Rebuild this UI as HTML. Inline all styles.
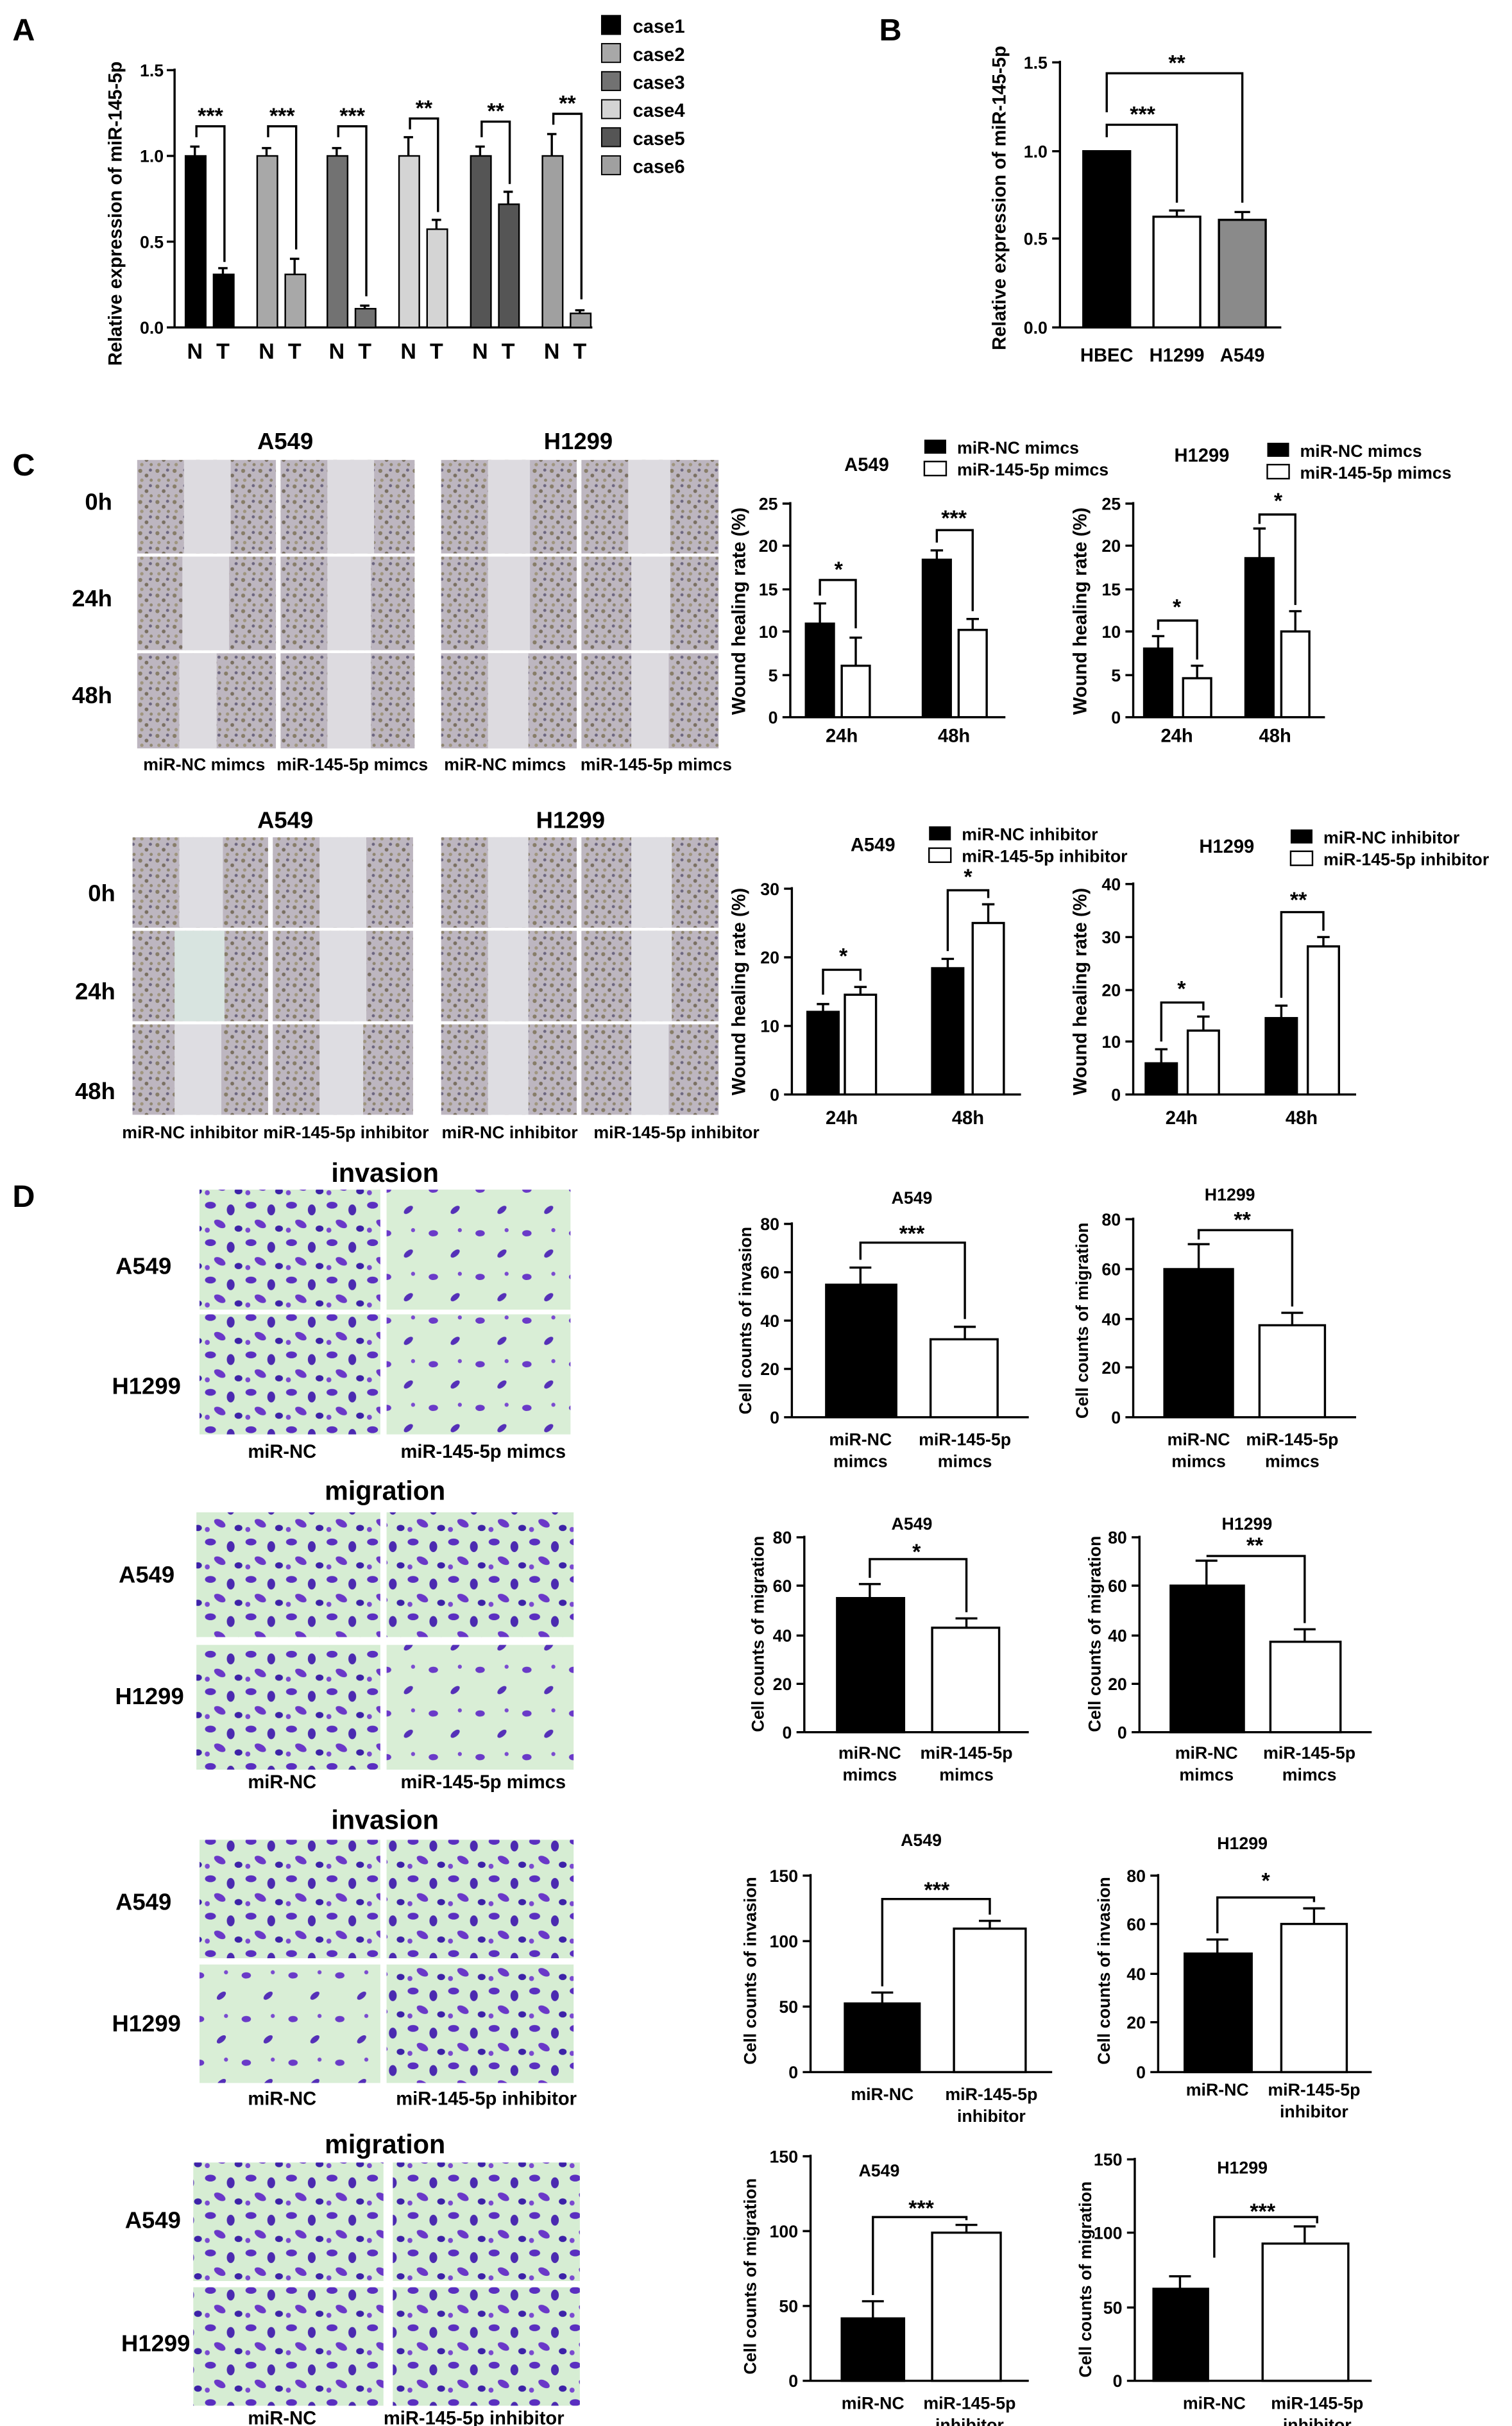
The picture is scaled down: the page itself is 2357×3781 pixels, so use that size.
<!DOCTYPE html>
<html><head><meta charset="utf-8"><style>
html,body{margin:0;padding:0;background:#fff}
svg{display:block}
text{font-family:"Liberation Sans",Arial,sans-serif;font-weight:bold;fill:#000}
.t{font-size:11px}
.l{font-size:12px}
.s{font-size:14px}
.h{font-size:15px}
.P{font-size:20px}
.ax line,.ax path,.ax polyline{stroke:#000;stroke-width:1.4;fill:none}
</style></head><body>
<svg width="2357" height="3781" viewBox="0 0 970 1556" preserveAspectRatio="none" xmlns="http://www.w3.org/2000/svg">
<defs>
<pattern id="wd" width="11" height="10" patternUnits="userSpaceOnUse">
<rect width="11" height="10" fill="#bdb6c0"/>
<circle cx="2" cy="2" r="1.3" fill="#877d68"/><circle cx="6" cy="5" r="1.2" fill="#7a7062"/><circle cx="3" cy="8" r="1.1" fill="#9f957e"/><circle cx="8.5" cy="1.5" r="1" fill="#6c6680"/><circle cx="9" cy="8" r="1" fill="#8e8570"/>
</pattern>
<pattern id="tw" width="26" height="24" patternUnits="userSpaceOnUse">
<rect width="26" height="24" fill="#d6edd3"/>
<ellipse cx="5" cy="5" rx="3.5" ry="2.2" fill="#5a2fc0"/><ellipse cx="18" cy="8" rx="2.5" ry="3.5" fill="#4b2ab0"/>
<ellipse cx="11" cy="17" rx="4" ry="2.2" fill="#6a38c8" transform="rotate(30 11 17)"/><ellipse cx="23" cy="20" rx="2.5" ry="2" fill="#3d22a8"/>
<circle cx="3" cy="21" r="1.6" fill="#7a4ad0"/>
</pattern>
<pattern id="tw2" width="30" height="28" patternUnits="userSpaceOnUse">
<rect width="30" height="28" fill="#d9eed6"/>
<ellipse cx="8" cy="7" rx="3" ry="2" fill="#6a3ac8"/><ellipse cx="22" cy="20" rx="3.5" ry="1.8" fill="#5530b8" transform="rotate(-40 22 20)"/><circle cx="25" cy="5" r="1.3" fill="#7a4ad0"/>
</pattern>
</defs>
<rect width="970" height="1556" fill="#fff"/>

<!-- Panel A -->
<text x="8" y="26" class="P">A</text>
<text transform="translate(78,137) rotate(-90)" text-anchor="middle" class="l">Relative expression of miR-145-5p</text>
<g class="ax"><line x1="112" y1="44" x2="112" y2="210"/><line x1="112" y1="210" x2="380" y2="210"/>
<line x1="107" y1="45" x2="112" y2="45"/><line x1="107" y1="100" x2="112" y2="100"/><line x1="107" y1="155" x2="112" y2="155"/><line x1="107" y1="210" x2="112" y2="210"/></g>
<g class="t" text-anchor="end"><text x="105" y="49">1.5</text><text x="105" y="104">1.0</text><text x="105" y="159">0.5</text><text x="105" y="214">0.0</text></g>
<g stroke="#000" stroke-width="1">
<rect x="119" y="100" width="13" height="110" fill="#000"/><rect x="137" y="176" width="13" height="34" fill="#000"/>
<rect x="165" y="100" width="13" height="110" fill="#a8a8a8"/><rect x="183" y="176" width="13" height="34" fill="#a8a8a8"/>
<rect x="210" y="100" width="13" height="110" fill="#727272"/><rect x="228" y="198" width="13" height="12" fill="#727272"/>
<rect x="256" y="100" width="13" height="110" fill="#d4d4d4"/><rect x="274" y="147" width="13" height="63" fill="#d4d4d4"/>
<rect x="302" y="100" width="13" height="110" fill="#555"/><rect x="320" y="131" width="13" height="79" fill="#555"/>
<rect x="348" y="100" width="13" height="110" fill="#a0a0a0"/><rect x="366" y="201" width="13" height="9" fill="#a0a0a0"/>
</g>
<g class="ax">
<path d="M125 100V94M122 94h6M143 176v-4M140 172h6M171 100v-5M168 95h6M189 176v-10M186 166h6M216 100v-5M213 95h6M234 198v-2M231 196h6M262 100v-12M259 88h6M280 147v-6M277 141h6M308 100v-6M305 94h6M326 131v-8M323 123h6M354 100v-14M351 86h6M372 201v-2M369 199h6"/>
<polyline points="126,88 126,81 144,81 144,168"/><polyline points="172,88 172,81 190,81 190,160"/><polyline points="217,88 217,81 235,81 235,190"/>
<polyline points="263,83 263,76 281,76 281,136"/><polyline points="309,88 309,78 327,78 327,118"/><polyline points="355,80 355,73 373,73 373,192"/>
</g>
<g class="s" text-anchor="middle"><text x="135" y="79">***</text><text x="181" y="79">***</text><text x="226" y="79">***</text><text x="272" y="74">**</text><text x="318" y="76">**</text><text x="364" y="71">**</text></g>
<g class="s" text-anchor="middle"><text x="125" y="230">N</text><text x="143" y="230">T</text><text x="171" y="230">N</text><text x="189" y="230">T</text><text x="216" y="230">N</text><text x="234" y="230">T</text><text x="262" y="230">N</text><text x="280" y="230">T</text><text x="308" y="230">N</text><text x="326" y="230">T</text><text x="354" y="230">N</text><text x="372" y="230">T</text></g>
<g stroke="#000" stroke-width="0.8"><rect x="386" y="10" width="12" height="12" fill="#000"/><rect x="386" y="28" width="12" height="12" fill="#a8a8a8"/><rect x="386" y="46" width="12" height="12" fill="#727272"/><rect x="386" y="64" width="12" height="12" fill="#d4d4d4"/><rect x="386" y="82" width="12" height="12" fill="#555"/><rect x="386" y="100" width="12" height="12" fill="#a0a0a0"/></g>
<g class="l"><text x="406" y="21">case1</text><text x="406" y="39">case2</text><text x="406" y="57">case3</text><text x="406" y="75">case4</text><text x="406" y="93">case5</text><text x="406" y="111">case6</text></g>

<!-- Panel B -->
<text x="564" y="26" class="P">B</text>
<text transform="translate(645,127) rotate(-90)" text-anchor="middle" class="l">Relative expression of miR-145-5p</text>
<g class="ax"><line x1="680" y1="39" x2="680" y2="210"/><line x1="680" y1="210" x2="822" y2="210"/>
<line x1="675" y1="40" x2="680" y2="40"/><line x1="675" y1="97" x2="680" y2="97"/><line x1="675" y1="153" x2="680" y2="153"/><line x1="675" y1="210" x2="680" y2="210"/></g>
<g class="t" text-anchor="end"><text x="672" y="44">1.5</text><text x="672" y="101">1.0</text><text x="672" y="157">0.5</text><text x="672" y="214">0.0</text></g>
<g stroke="#000" stroke-width="1.4"><rect x="695" y="97" width="30" height="113" fill="#000"/><rect x="740" y="139" width="30" height="71" fill="#fff"/><rect x="782" y="141" width="30" height="69" fill="#8a8a8a"/></g>
<g class="ax"><path d="M755 139v-4M750 135h10M797 141v-5M792 136h10"/>
<polyline points="710,88 710,80 755,80 755,130"/><polyline points="710,72 710,47 797,47 797,130"/></g>
<g class="s" text-anchor="middle"><text x="733" y="78">***</text><text x="755" y="45">**</text></g>
<g class="l" text-anchor="middle"><text x="710" y="232">HBEC</text><text x="755" y="232">H1299</text><text x="797" y="232">A549</text></g>

<!-- Panel C top images -->
<text x="8" y="305" class="P">C</text>
<g class="h" text-anchor="middle"><text x="183" y="288">A549</text><text x="371" y="288">H1299</text></g>
<g class="h" text-anchor="end"><text x="72" y="327">0h</text><text x="72" y="389">24h</text><text x="72" y="451">48h</text></g>
<g>
<rect x="88" y="295" width="89" height="60" fill="url(#wd)"/><rect x="180" y="295" width="86" height="60" fill="url(#wd)"/><rect x="283" y="295" width="87" height="60" fill="url(#wd)"/><rect x="373" y="295" width="88" height="60" fill="url(#wd)"/>
<rect x="88" y="357" width="89" height="60" fill="url(#wd)"/><rect x="180" y="357" width="86" height="60" fill="url(#wd)"/><rect x="283" y="357" width="87" height="60" fill="url(#wd)"/><rect x="373" y="357" width="88" height="60" fill="url(#wd)"/>
<rect x="88" y="419" width="89" height="61" fill="url(#wd)"/><rect x="180" y="419" width="86" height="61" fill="url(#wd)"/><rect x="283" y="419" width="87" height="61" fill="url(#wd)"/><rect x="373" y="419" width="88" height="61" fill="url(#wd)"/>
</g>
<g fill="#dddbe0">
<rect x="118" y="295" width="30" height="60"/><rect x="210" y="295" width="30" height="60"/><rect x="313" y="295" width="27" height="60"/><rect x="403" y="295" width="27" height="60"/>
<rect x="117" y="357" width="30" height="60"/><rect x="210" y="357" width="28" height="60"/><rect x="313" y="357" width="27" height="60"/><rect x="405" y="357" width="25" height="60"/>
<rect x="115" y="419" width="24" height="61"/><rect x="210" y="419" width="28" height="61"/><rect x="313" y="419" width="26" height="61"/><rect x="405" y="419" width="24" height="61"/>
</g>
<g class="t" text-anchor="middle"><text x="131" y="494">miR-NC mimcs</text><text x="226" y="494">miR-145-5p mimcs</text><text x="324" y="494">miR-NC mimcs</text><text x="421" y="494">miR-145-5p mimcs</text></g>

<!-- C top chart A549 -->
<text x="556" y="302" class="l" text-anchor="middle">A549</text>
<rect x="593" y="282" width="14" height="9" fill="#000"/><rect x="593" y="296" width="14" height="9" fill="#fff" stroke="#000"/>
<g class="t"><text x="614" y="291">miR-NC mimcs</text><text x="614" y="305">miR-145-5p mimcs</text></g>
<text transform="translate(478,392) rotate(-90)" text-anchor="middle" class="l">Wound healing rate (%)</text>
<g class="ax"><line x1="507" y1="322" x2="507" y2="460"/><line x1="507" y1="460" x2="645" y2="460"/>
<path d="M502 323h5M502 350h5M502 378h5M502 405h5M502 433h5M502 460h5"/></g>
<g class="t" text-anchor="end"><text x="499" y="327">25</text><text x="499" y="354">20</text><text x="499" y="382">15</text><text x="499" y="409">10</text><text x="499" y="437">5</text><text x="499" y="464">0</text></g>
<g stroke="#000" stroke-width="1.4"><rect x="517" y="400" width="18" height="60" fill="#000"/><rect x="540" y="427" width="18" height="33" fill="#fff"/><rect x="592" y="359" width="18" height="101" fill="#000"/><rect x="615" y="404" width="18" height="56" fill="#fff"/></g>
<g class="ax"><path d="M526 400v-13M522 387h8M549 427v-18M545 409h8M601 359v-6M597 353h8M624 404v-7M620 397h8"/>
<polyline points="526,382 526,372 549,372 549,403"/><polyline points="601,348 601,340 624,340 624,392"/></g>
<g class="s" text-anchor="middle"><text x="538" y="370">*</text><text x="612" y="337">***</text></g>
<g class="l" text-anchor="middle"><text x="540" y="476">24h</text><text x="612" y="476">48h</text></g>

<!-- C top chart H1299 -->
<text x="771" y="296" class="l" text-anchor="middle">H1299</text>
<rect x="813" y="284" width="14" height="9" fill="#000"/><rect x="813" y="298" width="14" height="9" fill="#fff" stroke="#000"/>
<g class="t"><text x="834" y="293">miR-NC mimcs</text><text x="834" y="307">miR-145-5p mimcs</text></g>
<text transform="translate(697,392) rotate(-90)" text-anchor="middle" class="l">Wound healing rate (%)</text>
<g class="ax"><line x1="727" y1="322" x2="727" y2="460"/><line x1="727" y1="460" x2="850" y2="460"/>
<path d="M722 323h5M722 350h5M722 378h5M722 405h5M722 433h5M722 460h5"/></g>
<g class="t" text-anchor="end"><text x="719" y="327">25</text><text x="719" y="354">20</text><text x="719" y="382">15</text><text x="719" y="409">10</text><text x="719" y="437">5</text><text x="719" y="464">0</text></g>
<g stroke="#000" stroke-width="1.4"><rect x="734" y="416" width="18" height="44" fill="#000"/><rect x="759" y="435" width="18" height="25" fill="#fff"/><rect x="799" y="358" width="18" height="102" fill="#000"/><rect x="822" y="405" width="18" height="55" fill="#fff"/></g>
<g class="ax"><path d="M743 416v-8M739 408h8M768 435v-8M764 427h8M808 358v-19M804 339h8M831 405v-13M827 392h8"/>
<polyline points="743,404 743,398 768,398 768,423"/><polyline points="808,336 808,330 831,330 831,388"/></g>
<g class="s" text-anchor="middle"><text x="755" y="394">*</text><text x="820" y="326">*</text></g>
<g class="l" text-anchor="middle"><text x="755" y="476">24h</text><text x="818" y="476">48h</text></g>

<!-- Panel C bottom images -->
<g class="h" text-anchor="middle"><text x="183" y="531">A549</text><text x="366" y="531">H1299</text></g>
<g class="h" text-anchor="end"><text x="74" y="578">0h</text><text x="74" y="641">24h</text><text x="74" y="705">48h</text></g>
<g>
<rect x="85" y="537" width="87" height="58" fill="url(#wd)"/><rect x="175" y="537" width="90" height="58" fill="url(#wd)"/><rect x="283" y="537" width="87" height="58" fill="url(#wd)"/><rect x="373" y="537" width="88" height="58" fill="url(#wd)"/>
<rect x="85" y="597" width="87" height="58" fill="url(#wd)"/><rect x="175" y="597" width="90" height="58" fill="url(#wd)"/><rect x="283" y="597" width="87" height="58" fill="url(#wd)"/><rect x="373" y="597" width="88" height="58" fill="url(#wd)"/>
<rect x="85" y="657" width="87" height="58" fill="url(#wd)"/><rect x="175" y="657" width="90" height="58" fill="url(#wd)"/><rect x="283" y="657" width="87" height="58" fill="url(#wd)"/><rect x="373" y="657" width="88" height="58" fill="url(#wd)"/>
</g>
<g fill="#dedde2">
<rect x="115" y="537" width="28" height="58"/><rect x="205" y="537" width="30" height="58"/><rect x="313" y="537" width="26" height="58"/><rect x="405" y="537" width="26" height="58"/>
<rect x="112" y="597" width="32" height="58" fill="#d8e4e0"/><rect x="205" y="597" width="30" height="58"/><rect x="313" y="597" width="26" height="58"/><rect x="405" y="597" width="26" height="58"/>
<rect x="112" y="657" width="30" height="58"/><rect x="205" y="657" width="28" height="58"/><rect x="313" y="657" width="26" height="58"/><rect x="405" y="657" width="24" height="58"/>
</g>
<g class="t" text-anchor="middle"><text x="122" y="730">miR-NC inhibitor</text><text x="222" y="730">miR-145-5p inhibitor</text><text x="327" y="730">miR-NC inhibitor</text><text x="434" y="730">miR-145-5p inhibitor</text></g>

<!-- C bottom A549 -->
<text x="560" y="546" class="l" text-anchor="middle">A549</text>
<rect x="596" y="530" width="14" height="9" fill="#000"/><rect x="596" y="544" width="14" height="9" fill="#fff" stroke="#000"/>
<g class="t"><text x="617" y="539">miR-NC inhibitor</text><text x="617" y="553">miR-145-5p inhibitor</text></g>
<text transform="translate(478,636) rotate(-90)" text-anchor="middle" class="l">Wound healing rate (%)</text>
<g class="ax"><line x1="508" y1="569" x2="508" y2="702"/><line x1="508" y1="702" x2="655" y2="702"/>
<path d="M503 570h5M503 614h5M503 658h5M503 702h5"/></g>
<g class="t" text-anchor="end"><text x="500" y="574">30</text><text x="500" y="618">20</text><text x="500" y="662">10</text><text x="500" y="706">0</text></g>
<g stroke="#000" stroke-width="1.4"><rect x="518" y="649" width="20" height="53" fill="#000"/><rect x="542" y="638" width="20" height="64" fill="#fff"/><rect x="598" y="621" width="20" height="81" fill="#000"/><rect x="624" y="592" width="20" height="110" fill="#fff"/></g>
<g class="ax"><path d="M528 649v-5M524 644h8M552 638v-5M548 633h8M608 621v-6M604 615h8M634 592v-12M630 580h8"/>
<polyline points="528,638 528,622 552,622 552,629"/><polyline points="608,610 608,571 634,571 634,576"/></g>
<g class="s" text-anchor="middle"><text x="541" y="618">*</text><text x="621" y="567">*</text></g>
<g class="l" text-anchor="middle"><text x="540" y="721">24h</text><text x="621" y="721">48h</text></g>

<!-- C bottom H1299 -->
<text x="787" y="547" class="l" text-anchor="middle">H1299</text>
<rect x="828" y="532" width="14" height="9" fill="#000"/><rect x="828" y="546" width="14" height="9" fill="#fff" stroke="#000"/>
<g class="t"><text x="849" y="541">miR-NC inhibitor</text><text x="849" y="555">miR-145-5p inhibitor</text></g>
<text transform="translate(697,636) rotate(-90)" text-anchor="middle" class="l">Wound healing rate (%)</text>
<g class="ax"><line x1="727" y1="566" x2="727" y2="702"/><line x1="727" y1="702" x2="870" y2="702"/>
<path d="M722 567h5M722 601h5M722 635h5M722 668h5M722 702h5"/></g>
<g class="t" text-anchor="end"><text x="719" y="571">40</text><text x="719" y="605">30</text><text x="719" y="639">20</text><text x="719" y="672">10</text><text x="719" y="706">0</text></g>
<g stroke="#000" stroke-width="1.4"><rect x="735" y="682" width="20" height="20" fill="#000"/><rect x="762" y="661" width="20" height="41" fill="#fff"/><rect x="812" y="653" width="20" height="49" fill="#000"/><rect x="839" y="607" width="20" height="95" fill="#fff"/></g>
<g class="ax"><path d="M745 682v-9M741 673h8M772 661v-9M768 652h8M822 653v-8M818 645h8M849 607v-6M845 601h8"/>
<polyline points="745,668 745,643 772,643 772,648"/><polyline points="822,640 822,585 849,585 849,597"/></g>
<g class="s" text-anchor="middle"><text x="758" y="639">*</text><text x="833" y="582">**</text></g>
<g class="l" text-anchor="middle"><text x="758" y="721">24h</text><text x="835" y="721">48h</text></g>

<!-- Panel D -->
<text x="8" y="774" class="P">D</text>
<text x="247" y="758" class="h" text-anchor="middle" style="font-size:17px">invasion</text>
<rect x="128" y="763" width="116" height="77" fill="url(#tw)"/><rect x="248" y="763" width="118" height="77" fill="url(#tw2)"/>
<rect x="128" y="843" width="116" height="77" fill="url(#tw)"/><rect x="248" y="843" width="118" height="77" fill="url(#tw2)"/>
<g class="h" text-anchor="end"><text x="110" y="817">A549</text><text x="116" y="894">H1299</text></g>
<g class="l" text-anchor="middle"><text x="181" y="935">miR-NC</text><text x="310" y="935">miR-145-5p mimcs</text></g>
<text x="247" y="962" class="h" text-anchor="middle" style="font-size:17px">migration</text>
<rect x="126" y="970" width="118" height="80" fill="url(#tw)"/><rect x="248" y="970" width="120" height="80" fill="url(#tw)"/>
<rect x="126" y="1055" width="118" height="80" fill="url(#tw)"/><rect x="248" y="1055" width="120" height="80" fill="url(#tw2)"/>
<g class="h" text-anchor="end"><text x="112" y="1015">A549</text><text x="118" y="1093">H1299</text></g>
<g class="l" text-anchor="middle"><text x="181" y="1147">miR-NC</text><text x="310" y="1147">miR-145-5p mimcs</text></g>
<text x="247" y="1173" class="h" text-anchor="middle" style="font-size:17px">invasion</text>
<rect x="128" y="1180" width="116" height="76" fill="url(#tw)"/><rect x="248" y="1180" width="120" height="76" fill="url(#tw)"/>
<rect x="128" y="1260" width="116" height="76" fill="url(#tw2)"/><rect x="248" y="1260" width="120" height="76" fill="url(#tw)"/>
<g class="h" text-anchor="end"><text x="110" y="1225">A549</text><text x="116" y="1303">H1299</text></g>
<g class="l" text-anchor="middle"><text x="181" y="1350">miR-NC</text><text x="312" y="1350">miR-145-5p inhibitor</text></g>
<text x="247" y="1381" class="h" text-anchor="middle" style="font-size:17px">migration</text>
<rect x="124" y="1387" width="122" height="76" fill="url(#tw)"/><rect x="252" y="1387" width="120" height="76" fill="url(#tw)"/>
<rect x="124" y="1467" width="122" height="76" fill="url(#tw)"/><rect x="252" y="1467" width="120" height="76" fill="url(#tw)"/>
<g class="h" text-anchor="end"><text x="116" y="1429">A549</text><text x="122" y="1508">H1299</text></g>
<g class="l" text-anchor="middle"><text x="181" y="1555">miR-NC</text><text x="304" y="1555">miR-145-5p inhibitor</text></g>

<!-- D row1 A549 chart -->
<text x="585" y="772" class="t" text-anchor="middle">A549</text>
<text transform="translate(482,847) rotate(-90)" text-anchor="middle" class="t">Cell counts of invasion</text>
<g class="ax"><line x1="508" y1="784" x2="508" y2="909"/><line x1="508" y1="909" x2="660" y2="909"/><path d="M503 785h5M503 816h5M503 847h5M503 878h5M503 909h5"/></g>
<g class="t" text-anchor="end"><text x="500" y="789">80</text><text x="500" y="820">60</text><text x="500" y="851">40</text><text x="500" y="882">20</text><text x="500" y="913">0</text></g>
<g stroke="#000" stroke-width="1.4"><rect x="530" y="824" width="45" height="85" fill="#000"/><rect x="597" y="859" width="43" height="50" fill="#fff"/></g>
<g class="ax"><path d="M552 824v-11M545 813h14M619 859v-8M612 851h14"/><polyline points="552,808 552,797 619,797 619,846"/></g>
<text x="585" y="796" class="s" text-anchor="middle">***</text>
<g class="t" text-anchor="middle"><text x="552" y="927">miR-NC</text><text x="552" y="941">mimcs</text><text x="619" y="927">miR-145-5p</text><text x="619" y="941">mimcs</text></g>
<!-- D row1 H1299 -->
<text x="789" y="770" class="t" text-anchor="middle">H1299</text>
<text transform="translate(698,847) rotate(-90)" text-anchor="middle" class="t">Cell counts of migration</text>
<g class="ax"><line x1="727" y1="781" x2="727" y2="909"/><line x1="727" y1="909" x2="870" y2="909"/><path d="M722 782h5M722 814h5M722 846h5M722 877h5M722 909h5"/></g>
<g class="t" text-anchor="end"><text x="719" y="786">80</text><text x="719" y="818">60</text><text x="719" y="850">40</text><text x="719" y="881">20</text><text x="719" y="913">0</text></g>
<g stroke="#000" stroke-width="1.4"><rect x="747" y="814" width="44" height="95" fill="#000"/><rect x="808" y="850" width="42" height="59" fill="#fff"/></g>
<g class="ax"><path d="M769 814v-16M762 798h14M829 850v-8M822 842h14"/><polyline points="769,795 769,789 829,789 829,838"/></g>
<text x="797" y="787" class="s" text-anchor="middle">**</text>
<g class="t" text-anchor="middle"><text x="769" y="927">miR-NC</text><text x="769" y="941">mimcs</text><text x="829" y="927">miR-145-5p</text><text x="829" y="941">mimcs</text></g>

<!-- D row2 A549 -->
<text x="585" y="981" class="t" text-anchor="middle">A549</text>
<text transform="translate(490,1048) rotate(-90)" text-anchor="middle" class="t">Cell counts of migration</text>
<g class="ax"><line x1="516" y1="985" x2="516" y2="1111"/><line x1="516" y1="1111" x2="660" y2="1111"/><path d="M511 986h5M511 1017h5M511 1049h5M511 1080h5M511 1111h5"/></g>
<g class="t" text-anchor="end"><text x="508" y="990">80</text><text x="508" y="1021">60</text><text x="508" y="1053">40</text><text x="508" y="1084">20</text><text x="508" y="1115">0</text></g>
<g stroke="#000" stroke-width="1.4"><rect x="537" y="1025" width="43" height="86" fill="#000"/><rect x="598" y="1044" width="43" height="67" fill="#fff"/></g>
<g class="ax"><path d="M558 1025v-9M551 1016h14M620 1044v-6M613 1038h14"/><polyline points="558,1012 558,1000 620,1000 620,1034"/></g>
<text x="588" y="1000" class="s" text-anchor="middle">*</text>
<g class="t" text-anchor="middle"><text x="558" y="1128">miR-NC</text><text x="558" y="1142">mimcs</text><text x="620" y="1128">miR-145-5p</text><text x="620" y="1142">mimcs</text></g>
<!-- D row2 H1299 -->
<text x="800" y="981" class="t" text-anchor="middle">H1299</text>
<text transform="translate(706,1048) rotate(-90)" text-anchor="middle" class="t">Cell counts of migration</text>
<g class="ax"><line x1="731" y1="985" x2="731" y2="1111"/><line x1="731" y1="1111" x2="880" y2="1111"/><path d="M726 986h5M726 1017h5M726 1049h5M726 1080h5M726 1111h5"/></g>
<g class="t" text-anchor="end"><text x="723" y="990">80</text><text x="723" y="1021">60</text><text x="723" y="1053">40</text><text x="723" y="1084">20</text><text x="723" y="1115">0</text></g>
<g stroke="#000" stroke-width="1.4"><rect x="751" y="1017" width="47" height="94" fill="#000"/><rect x="815" y="1053" width="45" height="58" fill="#fff"/></g>
<g class="ax"><path d="M774 1017v-16M767 1001h14M837 1053v-8M830 1045h14"/><polyline points="774,998 774,998 837,998 837,1041"/></g>
<text x="805" y="996" class="s" text-anchor="middle">**</text>
<g class="t" text-anchor="middle"><text x="774" y="1128">miR-NC</text><text x="774" y="1142">mimcs</text><text x="840" y="1128">miR-145-5p</text><text x="840" y="1142">mimcs</text></g>

<!-- D row3 A549 -->
<text x="591" y="1184" class="t" text-anchor="middle">A549</text>
<text transform="translate(485,1264) rotate(-90)" text-anchor="middle" class="t">Cell counts of invasion</text>
<g class="ax"><line x1="520" y1="1202" x2="520" y2="1329"/><line x1="520" y1="1329" x2="675" y2="1329"/><path d="M515 1203h5M515 1245h5M515 1287h5M515 1329h5"/></g>
<g class="t" text-anchor="end"><text x="512" y="1207">150</text><text x="512" y="1249">100</text><text x="512" y="1291">50</text><text x="512" y="1333">0</text></g>
<g stroke="#000" stroke-width="1.4"><rect x="542" y="1285" width="48" height="44" fill="#000"/><rect x="612" y="1237" width="46" height="92" fill="#fff"/></g>
<g class="ax"><path d="M566 1285v-7M559 1278h14M635 1237v-5M628 1232h14"/><polyline points="566,1274 566,1218 635,1218 635,1228"/></g>
<text x="601" y="1217" class="s" text-anchor="middle">***</text>
<g class="t" text-anchor="middle"><text x="566" y="1347">miR-NC</text><text x="636" y="1347">miR-145-5p</text><text x="636" y="1361">inhibitor</text></g>
<!-- D row3 H1299 -->
<text x="797" y="1186" class="t" text-anchor="middle">H1299</text>
<text transform="translate(712,1264) rotate(-90)" text-anchor="middle" class="t">Cell counts of invasion</text>
<g class="ax"><line x1="743" y1="1202" x2="743" y2="1329"/><line x1="743" y1="1329" x2="880" y2="1329"/><path d="M738 1203h5M738 1234h5M738 1266h5M738 1297h5M738 1329h5"/></g>
<g class="t" text-anchor="end"><text x="735" y="1207">80</text><text x="735" y="1238">60</text><text x="735" y="1270">40</text><text x="735" y="1301">20</text><text x="735" y="1333">0</text></g>
<g stroke="#000" stroke-width="1.4"><rect x="760" y="1253" width="43" height="76" fill="#000"/><rect x="822" y="1234" width="42" height="95" fill="#fff"/></g>
<g class="ax"><path d="M781 1253v-9M774 1244h14M843 1234v-10M836 1224h14"/><polyline points="781,1240 781,1217 843,1217 843,1220"/></g>
<text x="812" y="1211" class="s" text-anchor="middle">*</text>
<g class="t" text-anchor="middle"><text x="781" y="1344">miR-NC</text><text x="843" y="1344">miR-145-5p</text><text x="843" y="1358">inhibitor</text></g>

<!-- D row4 A549 -->
<text x="564" y="1396" class="t" text-anchor="middle">A549</text>
<text transform="translate(485,1460) rotate(-90)" text-anchor="middle" class="t">Cell counts of migration</text>
<g class="ax"><line x1="520" y1="1382" x2="520" y2="1527"/><line x1="520" y1="1527" x2="660" y2="1527"/><path d="M515 1383h5M515 1431h5M515 1479h5M515 1527h5"/></g>
<g class="t" text-anchor="end"><text x="512" y="1387">150</text><text x="512" y="1435">100</text><text x="512" y="1483">50</text><text x="512" y="1531">0</text></g>
<g stroke="#000" stroke-width="1.4"><rect x="540" y="1487" width="40" height="40" fill="#000"/><rect x="598" y="1432" width="44" height="95" fill="#fff"/></g>
<g class="ax"><path d="M560 1487v-11M553 1476h14M620 1432v-5M613 1427h14"/><polyline points="560,1472 560,1422 620,1422 620,1424"/></g>
<text x="591" y="1421" class="s" text-anchor="middle">***</text>
<g class="t" text-anchor="middle"><text x="560" y="1545">miR-NC</text><text x="622" y="1545">miR-145-5p</text><text x="622" y="1559">inhibitor</text></g>
<!-- D row4 H1299 -->
<text x="797" y="1394" class="t" text-anchor="middle">H1299</text>
<text transform="translate(700,1462) rotate(-90)" text-anchor="middle" class="t">Cell counts of migration</text>
<g class="ax"><line x1="728" y1="1384" x2="728" y2="1527"/><line x1="728" y1="1527" x2="880" y2="1527"/><path d="M723 1385h5M723 1432h5M723 1480h5M723 1527h5"/></g>
<g class="t" text-anchor="end"><text x="720" y="1389">150</text><text x="720" y="1436">100</text><text x="720" y="1484">50</text><text x="720" y="1531">0</text></g>
<g stroke="#000" stroke-width="1.4"><rect x="740" y="1468" width="35" height="59" fill="#000"/><rect x="810" y="1439" width="55" height="88" fill="#fff"/></g>
<g class="ax"><path d="M757 1468v-8M750 1460h14M837 1439v-11M830 1428h14"/><polyline points="779,1448 779,1422 845,1422 845,1426"/></g>
<text x="810" y="1423" class="s" text-anchor="middle">***</text>
<g class="t" text-anchor="middle"><text x="779" y="1545">miR-NC</text><text x="845" y="1545">miR-145-5p</text><text x="845" y="1559">inhibitor</text></g>
</svg>
</body></html>
